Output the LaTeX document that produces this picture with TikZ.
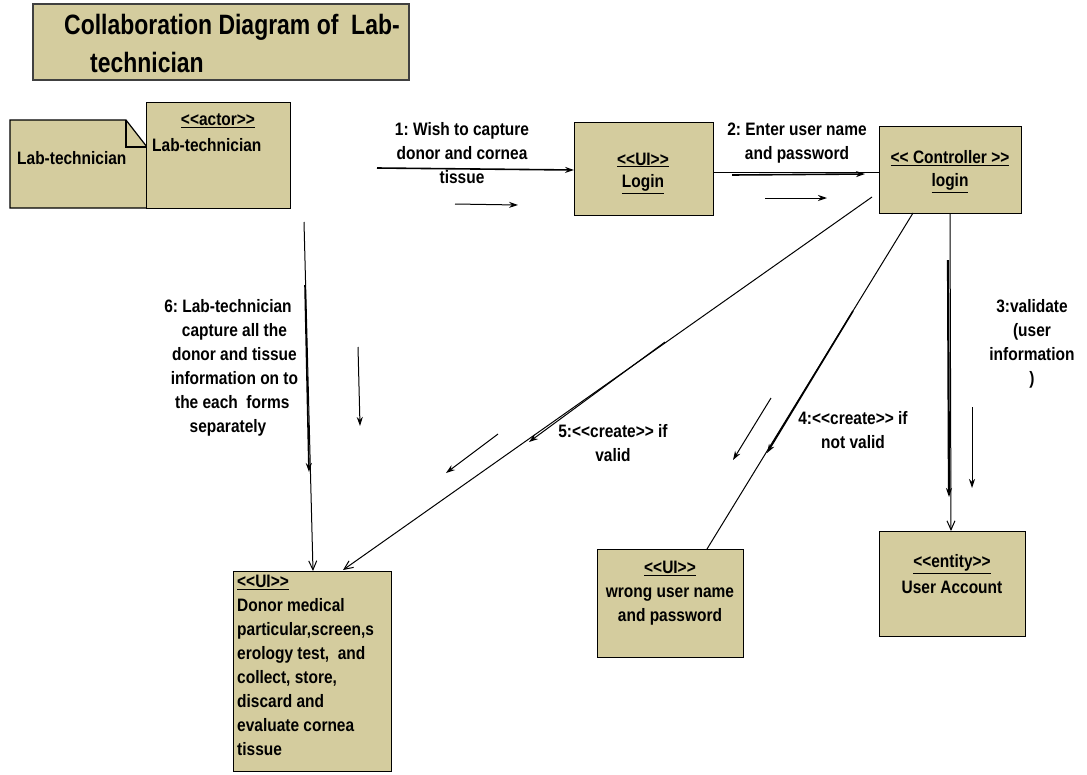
\documentclass[tikz,border=0pt]{standalone}
\usepackage{fontspec}
\setmainfont{Liberation Sans}[FakeStretch=0.86, Ligatures=TeXOff]
\newfontfamily\titlefont{Liberation Sans}[FakeStretch=0.82, Ligatures=TeXOff]
\usetikzlibrary{arrows.meta}
\definecolor{khaki}{RGB}{212,204,158}
\tikzset{
  box/.style={draw=black, line width=1.2pt, fill=khaki, inner sep=0pt, anchor=north west},
  txt/.style={font=\bfseries\fontsize{18}{24}\selectfont, inner sep=0pt, align=center},
  conn/.style={line width=1pt},
  thk/.style={line width=1.6pt},
  fa/.style={-{Stealth[length=9pt,width=6pt]}},
  oa/.style={-{Straight Barb[length=9pt,width=8pt]}},
}
\begin{document}
\frenchspacing
\begin{tikzpicture}[x=1pt,y=-1pt]
\useasboundingbox (0,0) rectangle (1087,774);
% title
\node[box, draw=black!75, line width=1.8pt, minimum width=376pt, minimum height=76pt] (title) at (32,3) {};
\node[txt, anchor=west, font=\titlefont\bfseries\fontsize{28}{32}\selectfont] (t1) at (64,27) {Collaboration Diagram of\ \ Lab-};
\node[txt, anchor=west, font=\titlefont\bfseries\fontsize{28}{32}\selectfont] (t2) at (90,62) {technician};
% note
\draw[box] (10,120) -- (126,120) -- (147,147) -- (147,208) -- (10,208) -- cycle;
\draw[line width=1.2pt] (126,120) -- (126,147) -- (147,147);
\node[txt, anchor=west] (notetxt) at (17,158) {Lab-technician};
% actor
\node[box, minimum width=144pt, minimum height=106pt] (actor) at (146,102) {};
\node[txt] (actor1) at (218,121) {\underline{<<actor>>}};
\node[txt, anchor=west] (actor2) at (152,145) {Lab-technician};
% login UI
\node[box, minimum width=139pt, minimum height=93pt] (login) at (574,122) {};
\node[txt] (login1) at (643,160) {\underline{<<UI>>}};
\node[txt] (login2) at (643,184) {\underline{Login}};
% controller
\node[box, minimum width=142pt, minimum height=87pt] (ctrl) at (879,126) {};
\node[txt] (ctrl1) at (950,158) {\underline{<< Controller >>}};
\node[txt] (ctrl2) at (950,183) {\underline{login}};
% donor UI
\node[box, minimum width=158pt, minimum height=200pt] (donor) at (233,571) {};
\node[txt, anchor=north west, align=left] (donortxt) at (237,575) {\underline{<<UI>>}\\Donor medical\\particular,screen,s\\erology test,\ \ and\\collect, store,\\discard and\\evaluate cornea\\tissue};
% wrong UI
\node[box, minimum width=146pt, minimum height=108pt] (wrong) at (597,549) {};
\node[txt] (wrongtxt) at (670,593) {\underline{<<UI>>}\\wrong user name\\and password};
% user account
\node[box, minimum width=146pt, minimum height=105pt] (acct) at (879,531) {};
\node[txt] (acct1) at (952,564) {\underline{<<entity>>}};
\node[txt] (acct2) at (952,587) {User Account};

% coordinates
\coordinate (a0) at (377,168);
\coordinate (a1) at (574,170);
\coordinate (s1a) at (455,204); \coordinate (s1b) at (518,205);
\coordinate (b0) at (713,172); \coordinate (b1) at (879,172);
\coordinate (b2) at (732,175); \coordinate (b3) at (865,174);
\coordinate (s2a) at (765,198); \coordinate (s2b) at (827,198);
\coordinate (c0) at (304,222); \coordinate (c1) at (313,571);
\coordinate (c2) at (305,285); \coordinate (c3) at (309,472);
\coordinate (s6a) at (358,347); \coordinate (s6b) at (360,426);
\coordinate (d0) at (872,197); \coordinate (d1) at (343,570);
\coordinate (d2) at (665,342); \coordinate (d3) at (529,442);
\coordinate (s5a) at (498,434); \coordinate (s5b) at (446,473);
\coordinate (e0) at (913,213); \coordinate (e1) at (707,549);
\coordinate (e2) at (853,311); \coordinate (e3) at (767,453);
\coordinate (s4a) at (771,398); \coordinate (s4b) at (733,460);
\coordinate (f0) at (950,213); \coordinate (f1) at (951,531);
\coordinate (f2) at (948,260); \coordinate (f3) at (949,497);
\coordinate (s3a) at (972,407); \coordinate (s3b) at (972,488);

% connectors
\draw[thk, fa] (a0) -- (a1);
\draw[conn, fa] (s1a) -- (s1b);
\draw[conn] (b0) -- (b1);
\draw[thk, fa] (b2) -- (b3);
\draw[conn, fa] (s2a) -- (s2b);
\draw[conn, oa] (c0) -- (c1);
\draw[thk, fa] (c2) -- (c3);
\draw[conn, fa] (s6a) -- (s6b);
\draw[conn, oa] (d0) -- (d1);
\draw[conn, fa] (d2) -- (d3);
\draw[conn, fa] (s5a) -- (s5b);
\draw[conn] (e0) -- (e1);
\draw[thk, fa] (e2) -- (e3);
\draw[conn, fa] (s4a) -- (s4b);
\draw[conn, oa] (f0) -- (f1);
\draw[thk, line width=2.2pt, fa] (f2) -- (f3);
\draw[conn, fa] (s3a) -- (s3b);

% labels
\node[txt] (l1) at (462,153) {1: Wish to capture\\donor and cornea\\tissue};
\node[txt] (l2) at (797,143) {2: Enter user name\\and password};
\node[txt] (l6) at (228,368) {6: Lab-technician\\\ \ \ capture all the\\\ \ \ donor and tissue\\\ \ \ information on to\\\ \ the each\ \ forms\\separately};
\node[txt] (l5) at (613,443) {5:<<create>> if\\valid};
\node[txt] (l4) at (853,430) {4:<<create>> if\\not valid};
\node[txt] (l3) at (1032,344) {3:validate\\(user\\information\\)};
\end{tikzpicture}
\end{document}
